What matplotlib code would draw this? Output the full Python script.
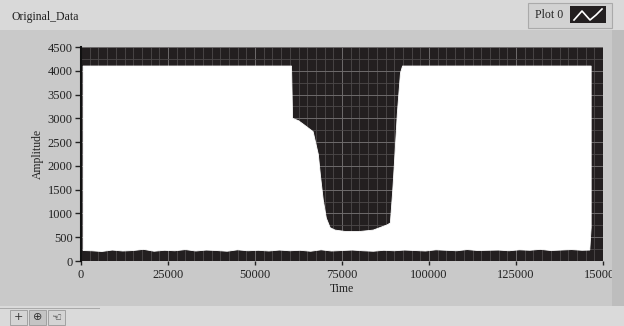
import matplotlib
import matplotlib.pyplot as plt
from matplotlib.patches import Rectangle
from matplotlib.ticker import MultipleLocator

matplotlib.use("Agg")

# upper envelope of the signal (time, amplitude)
upper_time = [600, 60500, 60800, 62500, 64000, 66700, 68200, 68800, 69600,
              70500, 71600, 73000, 76000, 80000, 84000, 88000, 88900,
              89600, 90300, 90900, 91800, 92400, 146600]
upper_amp = [4100, 4100, 3000, 2950, 2870, 2720, 2240, 1800, 1290,
             900, 700, 650, 620, 620, 650, 760, 800,
             1500, 2340, 3100, 3950, 4100, 4100]

# lower envelope (noisy baseline), read every 3000 samples
lower_time = [600, 3000, 6000, 9000, 12000, 15000, 18000, 21000, 24000, 27000,
              30000, 33000, 36000, 39000, 42000, 45000, 48000, 51000, 54000,
              57000, 60000, 63000, 66000, 69000, 72000, 75000, 78000, 81000,
              84000, 87000, 90000, 93000, 96000, 99000, 102000, 105000,
              108000, 111000, 114000, 117000, 120000, 123000, 126000,
              129000, 132000, 135000, 138000, 141000, 144000, 146200, 146600]
lower_amp = [220, 215, 200, 230, 210, 220, 245, 205, 225, 215,
             240, 210, 230, 220, 205, 235, 215, 225, 210, 230,
             215, 225, 205, 235, 210, 220, 230, 215, 205, 225,
             215, 230, 220, 210, 235, 225, 215, 240, 220, 225,
             230, 215, 235, 225, 245, 220, 230, 240, 225, 230, 700]

x_ticks = [0, 25000, 50000, 75000, 100000, 125000, 150000]
y_ticks = [0, 500, 1000, 1500, 2000, 2500, 3000, 3500, 4000, 4500]

W, H = 624, 326
fig = plt.figure(figsize=(W / 100, H / 100), dpi=100)
fig.patch.set_facecolor("#c9c9c9")
serif = ["Liberation Serif", "DejaVu Serif"]

# panel decorations
fig.patches.append(Rectangle((0, 1 - 30 / H), 1, 30 / H, transform=fig.transFigure,
                             facecolor="#d9d9d9", edgecolor="none", zorder=0))
fig.patches.append(Rectangle((0, 0), 1, 20 / H, transform=fig.transFigure,
                             facecolor="#dadada", edgecolor="none", zorder=0))
fig.patches.append(Rectangle((612 / W, 20 / H), 12 / W, 276 / H, transform=fig.transFigure,
                             facecolor="#bdbdbd", edgecolor="none", zorder=0))
fig.text(12 / W, 1 - 17 / H, "Original_Data", family=serif, fontsize=8.5,
         color="#222222", va="center", ha="left")

# legend box
fig.patches.append(Rectangle((528 / W, 1 - 28 / H), 84 / W, 25 / H, transform=fig.transFigure,
                             facecolor="#d2d2d2", edgecolor="#aaaaaa", lw=0.8, zorder=1))
fig.text(535 / W, 1 - 15 / H, "Plot 0", family=serif, fontsize=8.5,
         color="#222222", va="center", ha="left")
fig.patches.append(Rectangle((570 / W, 1 - 23 / H), 36 / W, 17 / H, transform=fig.transFigure,
                             facecolor="#231f20", edgecolor="none", zorder=2))
fig.lines.append(matplotlib.lines.Line2D(
    [574 / W, 582 / W, 590 / W, 596 / W, 602 / W],
    [1 - 20 / H, 1 - 11 / H, 1 - 20 / H, 1 - 15 / H, 1 - 9 / H],
    transform=fig.transFigure, color="white", lw=1.2, zorder=3))

# bottom toolbar buttons
for i, sym in enumerate(["+", "⊕", "☜"]):
    x0 = (10 + i * 19) / W
    fig.patches.append(Rectangle((x0, 1 / H), 17 / W, 15 / H, transform=fig.transFigure,
                                 facecolor="#c4c4c4" if i == 1 else "#d4d4d4",
                                 edgecolor="#999999", lw=0.6, zorder=1))
    fig.text(x0 + 8.5 / W, 8.5 / H, sym, fontsize=8, color="#333333",
             ha="center", va="center")
fig.patches.append(Rectangle((0, 17 / H), 100 / W, 1 / H, transform=fig.transFigure,
                             facecolor="#aaaaaa", edgecolor="none", zorder=1))

ax = fig.add_axes([81 / W, (H - 261) / H, 522 / W, 214 / H])
ax.set_facecolor("#231f20")
poly_t = upper_time + lower_time[::-1]
poly_a = upper_amp + lower_amp[::-1]
ax.fill(poly_t, poly_a, color="white", lw=0.6, ec="white", zorder=1)

ax.set_xlim(0, 150000)
ax.set_ylim(0, 4500)
ax.set_xticks(x_ticks)
ax.set_yticks(y_ticks)
ax.xaxis.set_minor_locator(MultipleLocator(2500))
ax.yaxis.set_minor_locator(MultipleLocator(250))
ax.grid(which="minor", color="#4d4a4b", lw=0.6, zorder=0)
ax.grid(which="major", color="#6e6b6c", lw=0.7, zorder=0)
ax.set_axisbelow(True)
ax.tick_params(axis="both", which="minor", length=0)
ax.tick_params(axis="y", which="major", length=4, width=1, color="#222222",
               labelsize=9, labelcolor="#222222", pad=2)
ax.tick_params(axis="x", which="major", length=3, width=1, color="#222222",
               labelsize=9, labelcolor="#222222", pad=3)
for lab in ax.get_xticklabels() + ax.get_yticklabels():
    lab.set_family(serif)
for side in ["top", "right", "bottom"]:
    ax.spines[side].set_visible(False)
ax.spines["left"].set_color("#111111")
ax.spines["left"].set_linewidth(1.5)
ax.set_xlabel("Time", family=serif, fontsize=8.5, color="#222222", labelpad=1)
ax.set_ylabel("Amplitude", family=serif, fontsize=8.5, color="#222222", labelpad=3)

fig.savefig("out.png", dpi=100, facecolor=fig.get_facecolor())
